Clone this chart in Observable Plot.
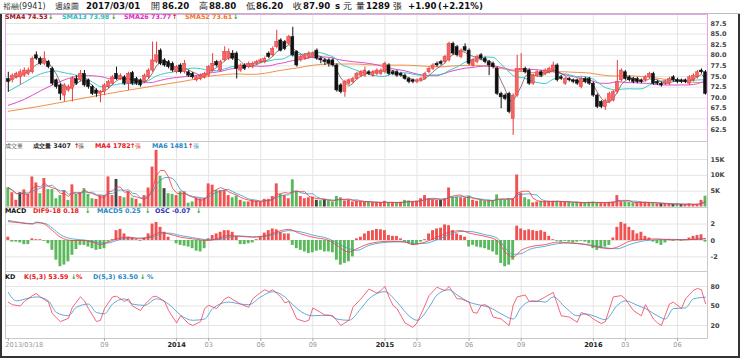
<!DOCTYPE html>
<html><head><meta charset="utf-8">
<script src="https://cdn.jsdelivr.net/npm/d3@7"></script>
<script src="https://cdn.jsdelivr.net/npm/@observablehq/plot@0.6"></script>
<style>
body{margin:0;background:#fff;}
#chart{position:relative;width:740px;height:358px;overflow:hidden;background:#fff;font-family:"DejaVu Sans",Verdana,sans-serif;}
#chart svg{position:absolute;left:0;overflow:visible;}
.lb{position:absolute;white-space:nowrap;}
</style></head><body><div id="chart"></div>
<script>
// ---------------- DATA (weekly candles, from 2013/03/18) ----------------
const opens = [74.4,74.1,74.8,74.8,75.2,75.6,76.0,80.0,79.2,78.0,
78.4,76.8,74.1,72.9,70.5,71.7,72.1,74.4,74.1,75.6,
74.1,72.5,71.7,70.9,71.3,72.5,73.3,75.6,74.4,74.8,
73.3,75.8,74.4,74.1,73.7,74.8,76.4,78.4,81.1,78.8,
78.4,78.0,76.0,77.6,76.0,76.0,75.6,74.1,74.4,74.8,
75.2,76.4,78.4,76.4,78.8,79.2,80.4,80.4,76.4,77.6,
77.2,77.2,78.0,78.4,78.4,80.4,80.0,81.9,83.5,83.1,
82.7,84.3,80.8,78.8,79.2,79.6,79.6,81.1,79.2,78.8,
78.8,78.8,77.6,72.9,71.3,73.3,73.7,74.4,75.2,75.2,
76.0,75.2,75.6,75.6,76.0,77.6,76.0,76.0,75.6,75.2,
74.4,74.1,73.7,74.1,74.4,76.0,76.8,78.0,78.4,78.4,
78.8,82.7,81.9,79.6,81.9,81.1,77.6,78.4,80.0,79.2,
78.4,78.0,76.8,70.9,70.5,70.9,65.0,70.5,76.4,76.8,
76.4,73.3,75.2,76.0,75.6,76.0,76.4,77.6,74.8,73.3,
74.4,74.1,74.1,72.5,74.4,74.4,73.3,70.5,69.0,67.8,
69.0,69.3,71.3,74.1,76.0,74.8,74.4,74.4,74.1,74.1,
74.8,75.6,73.7,73.3,73.3,73.3,74.8,74.2,74.1,74.1,
73.3,74.1,74.8,76.4,76.0];
const closes = [73.7,75.2,75.6,76.0,76.4,76.4,79.2,79.2,78.0,79.2,
77.2,73.3,72.5,70.9,72.9,72.5,74.4,73.3,75.6,72.9,
72.5,70.9,70.9,71.3,72.9,73.7,74.8,74.4,75.2,73.3,
75.6,73.3,73.3,72.9,75.2,76.4,78.8,80.0,78.0,77.6,
77.2,76.4,77.2,76.0,78.0,75.2,74.8,74.8,75.2,75.6,
77.2,78.0,77.6,78.4,80.8,80.8,79.2,76.8,77.6,76.8,
78.0,78.0,78.4,78.8,79.2,79.6,81.5,83.1,81.1,81.5,
84.3,80.0,77.6,79.6,80.0,80.4,80.4,79.2,78.8,78.4,
78.0,77.6,71.7,71.3,73.7,74.1,74.4,75.6,76.0,76.4,
75.6,76.0,76.4,76.4,78.0,75.6,75.6,75.2,75.2,74.4,
73.7,73.7,74.1,74.4,75.6,76.8,77.6,77.6,78.0,79.6,
82.7,80.4,80.0,81.1,81.1,78.0,78.8,79.6,79.2,78.4,
77.6,77.2,70.9,70.1,69.7,66.6,70.5,76.8,76.8,76.0,
73.3,75.2,76.0,75.2,76.4,76.8,77.6,74.1,74.4,74.4,
74.1,73.7,73.3,74.4,73.7,73.3,70.5,67.8,67.8,69.3,
70.9,71.3,73.7,76.4,74.4,74.1,73.7,73.7,73.7,74.8,
75.6,73.3,73.3,72.9,73.7,74.4,74.1,73.7,73.7,73.7,
74.8,75.2,76.0,76.0,70.9];
const highs = [76.0,75.6,76.0,76.6,77.0,77.0,79.6,80.8,79.6,80.8,
78.8,77.2,74.4,73.3,73.3,73.0,75.0,75.2,76.4,76.4,
74.4,72.9,72.1,71.7,73.3,74.1,75.2,77.2,75.6,75.2,
76.0,76.2,74.8,74.4,75.6,76.8,83.1,83.1,81.5,79.2,
78.8,78.4,77.6,78.0,78.8,76.4,76.0,75.2,75.6,76.0,
77.6,80.4,78.8,78.8,82.0,81.5,81.1,80.8,78.0,78.0,
78.4,78.4,78.8,79.2,79.6,80.8,82.0,85.9,83.9,83.5,
84.7,86.6,81.1,80.0,80.4,80.8,80.8,81.5,79.6,79.2,
79.2,79.2,78.0,73.3,74.1,74.4,74.8,76.0,76.4,77.2,
76.4,76.4,76.8,76.8,78.4,78.0,76.4,76.4,76.0,75.6,
74.8,74.4,74.4,74.8,76.0,77.2,78.0,78.4,78.8,80.0,
83.1,83.1,82.3,81.5,82.7,81.5,79.2,80.0,80.4,79.6,
78.8,78.4,77.2,71.3,70.9,71.3,70.9,80.0,80.4,77.2,
76.8,75.6,76.4,76.4,76.8,77.2,78.4,78.0,75.2,74.8,
74.8,74.4,74.4,74.8,74.8,74.8,73.7,70.9,69.3,69.7,
71.3,71.7,78.8,76.8,76.4,75.2,74.8,74.8,74.4,75.2,
76.0,76.0,74.1,73.7,74.1,74.8,75.2,74.6,74.4,74.4,
75.2,75.6,76.4,76.8,76.4];
const lows = [71.3,73.5,74.4,73.0,74.8,75.2,75.6,78.8,77.6,77.6,
76.8,72.9,72.0,69.3,69.0,71.3,69.0,72.9,73.7,72.5,
72.0,70.5,70.1,68.8,70.5,72.1,72.9,74.1,74.1,72.9,
71.7,72.9,72.9,72.5,73.3,74.4,76.0,78.0,77.6,77.2,
76.8,76.0,75.6,75.6,75.6,74.8,74.4,73.7,74.0,74.4,
74.8,76.0,77.2,76.0,78.4,78.8,78.8,74.4,76.0,76.4,
76.8,76.8,77.6,78.0,78.0,79.2,79.6,81.5,80.8,81.1,
82.3,79.6,77.2,78.4,78.8,79.2,79.2,78.8,78.0,77.6,
77.2,77.2,71.3,70.9,70.1,72.9,73.3,74.1,74.8,74.8,
75.2,74.8,75.2,75.2,75.6,75.2,75.2,74.8,74.8,74.1,
73.3,73.3,73.3,73.7,74.1,75.6,76.4,77.2,77.6,78.0,
78.4,80.0,79.6,79.2,80.8,77.6,77.2,78.0,78.8,78.0,
75.2,76.8,70.5,67.4,69.3,66.2,61.1,70.1,76.0,75.6,
72.9,72.9,74.8,74.8,75.2,75.6,76.0,73.7,74.1,72.9,
73.7,73.3,72.9,72.1,73.3,72.9,70.1,67.4,67.4,67.0,
68.6,69.0,70.9,73.7,74.1,73.7,73.3,73.3,73.3,73.7,
74.4,72.9,72.9,72.5,72.9,72.9,73.7,73.3,73.3,73.3,
72.9,73.7,74.4,75.6,70.6];
const volumes = [6100,4500,2100,4500,5400,4000,9500,7600,4200,9000,
5500,5500,2600,3600,5200,2100,7000,4000,4500,5800,
4000,2600,2400,3600,3600,9500,3600,8700,3300,2900,
4800,2800,2400,1000,3600,6000,12600,17900,9700,5800,
4200,4000,3600,4800,4800,1200,1600,2900,2600,2800,
7300,6900,5200,5200,5200,3600,2900,3500,2100,1600,
1600,2100,1900,1600,2400,2400,3300,7300,4000,3600,
2600,8600,4800,3300,2600,2900,3100,2100,2000,2300,
1900,1600,3300,2900,1900,2100,1600,1800,1600,1600,
1600,1400,1400,1300,1800,1300,1400,1300,1500,2100,
1900,1600,1800,2600,3600,2600,2300,2100,2100,2600,
6000,3100,3100,2900,2800,3300,2100,1800,2100,1800,
2100,2100,3800,2300,2100,2500,2600,10100,4400,2900,
2300,1300,1600,1800,1800,1800,1800,1800,1600,1600,
1500,1300,1500,1300,1300,1500,1600,1400,1300,1300,
1500,1600,3600,1600,1600,1400,1300,1400,1600,1500,
1300,1300,1000,1000,1000,1000,800,1000,800,800,
958,800,830,2090,3407];
const flatWeeks = [3,27,39,77,79,108,163,166,168];

const sma13EarlyWeeks = [0,4,8];
const sma13EarlyVals  = [71.5,73.6,75.6];
const sma26EarlyWeeks = [0,4,8,12,16,20,24];
const sma26EarlyVals  = [68.2,69.6,71.6,73.4,74.8,75.2,74.8];
const sma52EarlyWeeks = [0,8,16,24,32,40,48];
const sma52EarlyVals  = [66.8,68.0,69.4,70.8,72.1,73.3,74.6];

// MACD
const oscVals = [0.4,-0.2,-0.2,-0.3,-0.5,-0.5,0.2,0.1,0.1,-0.1,
-0.4,-1.2,-2.4,-3.2,-3.0,-2.6,-1.8,-1.1,-0.6,-0.6,
-0.8,-1.0,-1.2,-1.1,-1.0,-0.2,0.1,1.2,1.35,0.8,
0.4,0.3,0.1,-0.1,0.3,0.8,2.0,2.2,1.6,1.0,
0.4,0.0,-0.4,-0.6,-0.7,-0.8,-1.0,-1.3,-1.4,-1.0,
0.2,0.6,0.8,1.0,1.2,1.2,1.0,0.5,-0.5,-0.5,
-0.4,-0.3,0.1,0.4,0.9,1.2,1.4,1.3,1.0,0.8,
0.8,-0.6,-1.0,-1.2,-1.4,-1.6,-1.5,-1.3,-1.2,-1.4,
-1.4,-1.5,-2.4,-3.0,-2.8,-2.6,-2.0,0.2,0.4,0.8,
1.1,1.2,1.35,1.3,1.2,0.6,0.5,0.5,0.2,-0.2,
-0.4,-0.6,-0.5,-0.2,0.1,0.8,1.2,1.4,1.5,1.9,
1.8,1.2,0.8,0.6,0.4,-0.8,-0.6,-0.8,-0.9,-1.0,
-1.2,-1.4,-1.8,-2.8,-3.2,-3.0,-2.4,1.75,1.4,1.2,
1.3,1.2,1.1,1.2,1.0,0.5,0.1,-0.1,-0.2,-0.1,
-0.2,-0.3,-0.2,-0.1,-0.2,-0.4,-1.0,-1.2,-1.0,-0.8,
-0.6,0.3,1.6,2.2,2.0,1.6,1.2,0.8,1.0,0.5,
0.3,-0.2,-0.4,-0.6,-0.3,0.1,-0.1,0.1,-0.1,0.1,
0.3,0.5,0.6,0.7,-0.2];
const macdWeeks = [0,3,6,7,9,11,13,16,19,21,23,25,27,30,33,36,38,40,43,46,50,52,55,58,61,65,68,70,73,76,80,82,85,87,90,95,99,101,104,107,110,113,115,119,122,124,126,128,130,134,137,140,144,147,150,152,155,158,162,165,169,173,174];
const difVals = [2.3,2.15,2.0,2.24,2.0,1.22,0.4,0.0,0.0,-0.2,-0.5,-0.2,0.2,0.4,0.2,0.6,1.0,0.8,0.4,0.2,0.0,0.2,0.6,0.5,0.4,0.7,1.2,1.35,0.8,0.4,0.0,-0.6,-1.4,-1.0,-0.4,-0.1,-0.2,-0.5,-0.2,0.4,1.0,1.2,0.9,0.5,0.0,-1.4,-2.0,-1.2,-0.8,-0.5,-0.2,-0.3,-0.5,-0.8,-1.0,-0.8,-0.1,0.1,0.2,0.08,0.08,0.2,0.18];
const sigVals = [2.44,2.2,2.05,2.15,2.1,1.5,0.7,0.2,0.05,-0.1,-0.3,-0.3,0.0,0.3,0.3,0.4,0.8,0.9,0.6,0.35,0.1,0.1,0.4,0.55,0.45,0.55,1.0,1.2,1.05,0.65,0.2,-0.3,-1.0,-1.2,-0.6,-0.2,-0.15,-0.35,-0.35,0.1,0.7,1.1,1.1,0.7,0.3,-0.9,-1.7,-1.6,-1.1,-0.7,-0.4,-0.3,-0.45,-0.7,-0.95,-1.0,-0.5,-0.1,0.1,0.15,0.1,0.2,0.25];

// KD
const kWeeks = [0,1,3,4,6,7,8,10,11,13,15,16,18,19,20,22,23,24,26,27,29,30,31,33,34,36,37,39,40,42,43,45,46,48,49,50,52,54,55,56,58,60,61,63,64,65,66,68,69,70,72,74,75,76,78,79,81,83,85,86,88,90,92,93,94,95,96,97,99,101,102,104,105,107,108,109,110,112,113,115,116,117,118,119,120,121,123,125,126,127,129,130,132,134,136,138,140,142,143,145,146,148,149,151,153,154,156,158,159,161,162,163,165,166,168,169,171,172,173,174];
const kVals = [56,52,50,57,66,69,64,56,38,26,31,48,64,58,46,26,28,46,64,65,57,61,50,43,52,64,65,57,43,24,35,23,20,26,46,51,46,61,64,60,53,48,61,71,75,72,75,64,55,57,30,26,28,47,40,36,35,20,28,48,61,76,70,74,80,64,51,46,24,17,24,51,66,79,76,74,80,61,61,56,40,39,51,52,48,33,30,20,51,64,67,57,57,64,71,35,33,25,40,35,30,23,26,64,66,61,43,35,52,30,24,20,53,56,46,61,74,77,75,53.59];
const dWeeks = [0,2,5,7,10,12,15,17,20,22,24,26,29,31,34,37,40,43,46,49,51,55,58,60,63,66,69,71,74,76,80,82,85,88,90,94,97,100,102,105,107,110,112,115,118,120,123,126,128,131,134,136,139,142,144,146,149,152,154,157,159,162,164,166,169,171,174];
const dVals = [71,58,62,64,58,40,35,48,53,40,38,53,61,53,51,61,53,36,28,30,46,56,53,52,64,72,64,52,38,35,36,30,28,46,61,72,56,35,28,48,67,75,67,56,51,48,38,30,48,58,56,64,48,35,38,35,29,51,58,51,46,35,30,46,47,61,63.5];

const tickWeeks = [0,24,42,50,63,76,94,102,115,128,146,154,167];
const tickLabels = ["2013/03/18","09","2014","03","06","09","2015","03","06","09","2016","03","06"];
const yearLabels = ["2014","2015","2016"];
const priceTicks = [62.5,65,67.5,70,72.5,75,77.5,80,82.5,85,87.5];
const volTicks = [5000,10000,15000];
const macdTicks = [-2,0,2];
const kdTicks = [20,50,80];

// ---------------- DERIVED ----------------
const rows = closes.map((c,i)=>{
  const prev = i ? closes[i-1] : opens[i];
  return {i, open:opens[i], high:highs[i], low:lows[i], close:c, volume:volumes[i], osc:oscVals[i],
    up: c >= opens[i],
    vdir: flatWeeks.includes(i) ? "flat" : (c >= prev ? "up" : "down")};
});
function smaLine(n, ew, ev){
  const pts = ew.map((w,j)=>({i:w, v:ev[j]}));
  for (let i=n-1;i<closes.length;i++) pts.push({i, v:d3.mean(closes.slice(i-n+1,i+1))});
  return pts;
}
const zip = (ws, vs) => ws.map((w,j)=>({i:w, v:vs[j]}));

// ---------------- STYLE ----------------
const GRID="#e4e4e4", RED="#e83a3a", REDF="#f36464", BLK="#111", GRN="#5cb85c";
const FONT="DejaVu Sans, Verdana, sans-serif";
const xScale = {domain:[-0.7,174.5], axis:null};
const gridWeeks = tickWeeks.slice(1);
const chart = document.getElementById("chart");
const W=740, ML=5, MR=33;

function panel(top, h, yDomain, marks, mb=1){
  const svg = Plot.plot({width:W, height:h+1+mb, marginLeft:ML, marginRight:MR, marginTop:1, marginBottom:mb,
    x:xScale, y:{domain:yDomain, axis:null}, color:{type:"identity"},
    style:{fontFamily:FONT, fontSize:"6.5px", background:"transparent", overflow:"visible"}, marks});
  svg.style.top = (top-1)+"px";
  chart.appendChild(svg);
}
const axisR = (ticks, fmt) => Plot.axisY({anchor:"right", label:null, ticks, tickSize:0, tickPadding:3, tickFormat:fmt, fill:"#444", fontWeight:"bold", fontSize:6.5});

// price panel: 14 -> 141
panel(14, 127, [59.67, 89.62], [
  Plot.ruleY(priceTicks, {stroke:GRID}),
  Plot.ruleX(gridWeeks, {stroke:GRID}),
  Plot.lineY(smaLine(52, sma52EarlyWeeks, sma52EarlyVals), {x:"i", y:"v", stroke:"#f0904a", strokeWidth:1, curve:"monotone-x"}),
  Plot.lineY(smaLine(26, sma26EarlyWeeks, sma26EarlyVals), {x:"i", y:"v", stroke:"#e04ccc", strokeWidth:1, curve:"monotone-x"}),
  Plot.lineY(smaLine(13, sma13EarlyWeeks, sma13EarlyVals), {x:"i", y:"v", stroke:"#3cc8c8", strokeWidth:1, curve:"monotone-x"}),
  Plot.lineY(rows, Plot.windowY({k:4, anchor:"end", reduce:"mean", strict:false}, {x:"i", y:"close", stroke:"#5a4444", strokeWidth:0.7})),
  Plot.ruleX(rows, {x:"i", y1:"low", y2:"high", stroke:d=>d.up?RED:BLK, strokeWidth:1}),
  Plot.rect(rows, {x1:d=>d.i-0.38, x2:d=>d.i+0.38, y1:"open", y2:"close", fill:d=>d.up?REDF:BLK, stroke:d=>d.up?RED:BLK, strokeWidth:0.5}),
  Plot.frame({stroke:"#e6a6e6"}),
  axisR(priceTicks, d=>d.toFixed(1))
]);

// volume panel: 141 -> 207
panel(141, 66, [-158, 20685], [
  Plot.ruleY(volTicks, {stroke:GRID}),
  Plot.ruleX(gridWeeks, {stroke:GRID}),
  Plot.rect(rows, {x1:d=>d.i-0.36, x2:d=>d.i+0.36, y1:0, y2:"volume", fill:d=>d.vdir==="up"?"#f05252":d.vdir==="down"?GRN:"#444"}),
  Plot.lineY(rows, Plot.windowY({k:6, anchor:"end", reduce:"mean", strict:false}, {x:"i", y:"volume", stroke:"#3a96cf", strokeWidth:0.8})),
  Plot.lineY(rows, Plot.windowY({k:4, anchor:"end", reduce:"mean", strict:false}, {x:"i", y:"volume", stroke:"#f03a3a", strokeWidth:0.8})),
  Plot.frame({stroke:"#c9c9c9"}),
  axisR(volTicks, d=>(d/1000)+"K")
]);

// MACD panel: 207 -> 271
panel(207, 64, [-3.78, 4.02], [
  Plot.ruleY(macdTicks, {stroke:GRID}),
  Plot.ruleX(gridWeeks, {stroke:GRID}),
  Plot.rect(rows, {x1:d=>d.i-0.36, x2:d=>d.i+0.36, y1:0, y2:"osc", fill:d=>d.osc>=0?"#f05252":GRN}),
  Plot.lineY(zip(macdWeeks, sigVals), {x:"i", y:"v", stroke:"#3a96cf", strokeWidth:0.8, curve:"monotone-x"}),
  Plot.lineY(zip(macdWeeks, difVals), {x:"i", y:"v", stroke:"#f03a3a", strokeWidth:0.8, curve:"monotone-x"}),
  Plot.frame({stroke:"#c9c9c9"}),
  axisR(macdTicks, d=>String(d))
]);

// KD panel: 271 -> 338, x axis below
panel(271, 67, [0, 103.08], [
  Plot.ruleY(kdTicks, {stroke:GRID}),
  Plot.ruleX(gridWeeks, {stroke:GRID}),
  Plot.lineY(zip(dWeeks, dVals), {x:"i", y:"v", stroke:"#3a96cf", strokeWidth:0.8, curve:"monotone-x"}),
  Plot.lineY(zip(kWeeks, kVals), {x:"i", y:"v", stroke:"#f0405a", strokeWidth:0.8}),
  Plot.frame({stroke:"#c9c9c9"}),
  axisR(kdTicks, d=>String(d)),
  Plot.axisX({ticks:tickWeeks, tickSize:3, tickFormat:()=>"", label:null, stroke:"#aaa"}),
  Plot.text(tickWeeks.slice(0,1), {x:d=>d, text:()=>tickLabels[0], frameAnchor:"bottom", dy:8, dx:-3, textAnchor:"start", fill:"#999", fontSize:6.6}),
  Plot.text(tickWeeks.slice(1).filter((w,j)=>!yearLabels.includes(tickLabels[j+1])), {x:d=>d, text:d=>tickLabels[tickWeeks.indexOf(d)], frameAnchor:"bottom", dy:8, fill:"#999", fontSize:6.6}),
  Plot.text(tickWeeks.filter((w,j)=>yearLabels.includes(tickLabels[j])), {x:d=>d, text:d=>tickLabels[tickWeeks.indexOf(d)], frameAnchor:"bottom", dy:8, fill:"#222", fontWeight:"bold", fontSize:6.6})
], 20);

// ---------------- TEXT (header + legends) ----------------
function lb(text, x, yc, size, color, weight){
  const s=document.createElement("span"); s.className="lb"; s.textContent=text;
  s.style.cssText += `left:${x}px;top:${yc-size*0.6}px;font-size:${size}px;line-height:${size*1.2}px;color:${color};font-weight:${weight||"normal"};`;
  chart.appendChild(s);
}
const hdr = document.createElement("div");
hdr.style.cssText="position:absolute;left:0;top:0;width:740px;height:13px;border-bottom:1px solid #bbb;background:#fff;";
chart.appendChild(hdr);
const HY=6.5, HS=8.6;
lb("裕融(9941)",3,HY,8,"#333");
lb("週線圖",55,HY,8,"#222");
[["2017/03/01",86,1],["開",151,0],["86.20",162,1],["高",199,0],["88.80",209,1],["低",246,0],["86.20",256,1],["收",293,0],["87.90",303,1],["s",335,1],["元",343,0],["量",356,0],["1289",366,1],["張",393,0],["+1.90",408,1],["(+2.21%)",438,1]]
  .forEach(([t,x,b])=>lb(t,x,HY,HS,"#111",b?"bold":"normal"));
const LS=6.4, UP="#e02020", DN="#2f9a2f";
lb("SMA4 74.53",5,17.5,LS,"#a01818","bold"); lb("↓",48,17.5,LS,DN,"bold");
lb("SMA13 73.98",62,17.5,LS,"#2cc0c0","bold"); lb("↓",111,17.5,LS,DN,"bold");
lb("SMA26 73.77",124,17.5,LS,"#e030c0","bold"); lb("↑",172,17.5,LS,UP,"bold");
lb("SMA52 73.61",185,17.5,LS,"#f07830","bold"); lb("↓",233,17.5,LS,DN,"bold");
lb("成交量",5,146.7,LS,"#555");
lb("成交量 3407",33,146.7,LS,"#333","bold"); lb("↑",74,146.7,LS,UP,"bold"); lb("張",78,146.7,LS,"#333");
lb("MA4 1782",95,146.7,LS,"#e82020","bold"); lb("↑",130,146.7,LS,UP,"bold"); lb("張",135,146.7,LS,"#e82020");
lb("MA6 1481",152,146.7,LS,"#2a8ac8","bold"); lb("↑",188,146.7,LS,UP,"bold"); lb("張",193,146.7,LS,"#2a8ac8");
lb("MACD",5,211.7,LS,"#111","bold");
lb("DIF9-18 0.18",33,211.7,LS,"#e82020","bold"); lb("↓",85,211.7,LS,DN,"bold");
lb("MACD5 0.25",97,211.7,LS,"#2a8ac8","bold"); lb("↓",145,211.7,LS,DN,"bold");
lb("OSC -0.07",155,211.7,LS,"#3030c0","bold"); lb("↓",196,211.7,LS,DN,"bold");
lb("KD",5,278.3,LS,"#111","bold");
lb("K(5,3) 53.59",24,278.3,LS,"#e82020","bold"); lb("↓",71,278.3,LS,DN,"bold"); lb("%",76,278.3,LS,"#e82020","bold");
lb("D(5,3) 63.50",93,278.3,LS,"#2a8ac8","bold"); lb("↓",140,278.3,LS,DN,"bold"); lb("%",147,278.3,LS,"#2a8ac8","bold");
const fr=document.createElement("div");
fr.style.cssText="position:absolute;left:0;top:14px;width:736px;height:342px;border-left:2px solid #333;border-right:2px solid #333;border-bottom:2px solid #333;pointer-events:none;";
chart.appendChild(fr);
</script></body></html>
